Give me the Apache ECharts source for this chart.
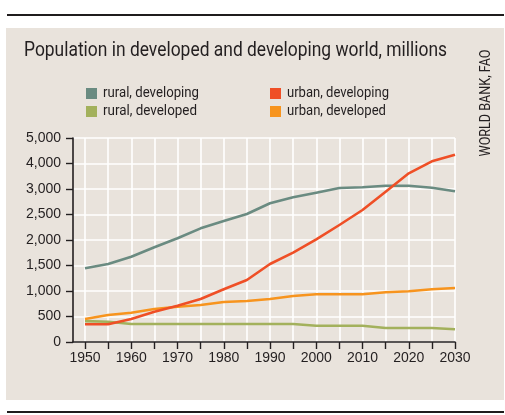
<!DOCTYPE html>
<html>
<head>
<meta charset="utf-8">
<script src="https://cdn.jsdelivr.net/npm/echarts@6/dist/echarts.min.js"></script>
<style>
  html, body { margin: 0; padding: 0; background: #ffffff; }
  #chart { width: 505px; height: 415px; }
</style>
</head>
<body>
<div id="chart"></div>
<script>
// Years on the horizontal axis (every five years)
const years = [1950, 1955, 1960, 1965, 1970, 1975, 1980, 1985, 1990, 1995, 2000, 2005, 2010, 2015, 2020, 2025, 2030];

// Population, millions
const ruralDeveloping = [1445, 1529, 1673, 1857, 2033, 2229, 2373, 2510, 2720, 2837, 2928, 3020, 3033, 3065, 3065, 3026, 2955];
const urbanDeveloping = [347, 347, 451, 594, 712, 843, 1033, 1216, 1529, 1751, 2013, 2294, 2588, 2947, 3307, 3543, 3673];
const ruralDeveloped  = [410, 398, 353, 353, 353, 353, 353, 353, 353, 353, 320, 320, 320, 275, 275, 275, 249];
const urbanDeveloped  = [451, 529, 575, 647, 692, 725, 784, 804, 843, 902, 935, 935, 935, 974, 994, 1033, 1059];

// Tick labels as printed on the axes
const yTickLabels = ['0', '500', '1,000', '1,500', '2,000', '2,500', '3,000', '4,000', '5,000'];
const xTickLabels = ['1950', '1960', '1970', '1980', '1990', '2000', '2010', '2020', '2030'];

const seriesNames = ['rural, developing', 'urban, developing', 'rural, developed', 'urban, developed'];
const seriesValues = [ruralDeveloping, urbanDeveloping, ruralDeveloped, urbanDeveloped];
const seriesColors = ['#6a8b81', '#ef4f26', '#a3b15c', '#f7941e'];

const INK = '#231f20';
const NUM_FONT = '"Liberation Sans", Arial, sans-serif';
const TEXT_FONT = 'Roboto, "Liberation Sans", sans-serif';

// Condensed look: squeeze a text horizontally so it spans the given width
const measureCtx = document.createElement('canvas').getContext('2d');
function squeezedText(text, x, y, size, width, extra) {
  const font = size + 'px ' + TEXT_FONT;
  measureCtx.font = font;
  const w = measureCtx.measureText(text).width;
  return Object.assign({
    type: 'text', z: 10, silent: true, x: x, y: y, scaleX: width / w, scaleY: 1,
    style: { text: text, fill: INK, font: font, textAlign: 'left', textVerticalAlign: 'middle' }
  }, extra || {});
}

const chart = echarts.init(document.getElementById('chart'), null, { renderer: 'canvas' });

const drawOrder = [0, 2, 3, 1];
const series = drawOrder.map(i => ({
  name: seriesNames[i],
  type: 'line',
  xAxisIndex: 1,
  yAxisIndex: 1,
  showSymbol: false,
  symbol: 'none',
  silent: true,
  color: seriesColors[i],
  lineStyle: { width: 2.6, color: seriesColors[i], cap: 'butt', join: 'round' },
  data: years.map((y, k) => [y, seriesValues[i][k]])
}));

// Legend: two columns of swatch + label
const legendSlots = [
  { idx: 0, x: 86, y: 88, textW: 96 },
  { idx: 2, x: 86, y: 106, textW: 94 },
  { idx: 1, x: 270, y: 88, textW: 102 },
  { idx: 3, x: 270, y: 106, textW: 99 }
];
const legendGraphics = [];
legendSlots.forEach(s => {
  legendGraphics.push({ type: 'rect', z: 10, silent: true,
    shape: { x: s.x, y: s.y, width: 11, height: 11 }, style: { fill: seriesColors[s.idx] } });
  legendGraphics.push(squeezedText(seriesNames[s.idx], s.x + 17, s.y + 5.5, 15, s.textW));
});

const sourceText = squeezedText('WORLD BANK, FAO', 486, 103, 14, 107, { rotation: Math.PI / 2 });
sourceText.style.textAlign = 'center';

const option = {
  animation: false,
  backgroundColor: 'transparent',
  graphic: [
    { type: 'rect', z: -10, silent: true, shape: { x: 6, y: 28, width: 498, height: 372 }, style: { fill: '#e9e3dc' } },
    { type: 'rect', z: -10, silent: true, shape: { x: 7, y: 14, width: 497, height: 2 }, style: { fill: '#1f1c1d' } },
    { type: 'rect', z: -10, silent: true, shape: { x: 7, y: 411, width: 497, height: 2 }, style: { fill: '#1f1c1d' } },
    squeezedText('Population in developed and developing world, millions', 24, 51, 21, 423),
    sourceText
  ].concat(legendGraphics),
  grid: [
    { left: 73, right: 50, top: 138, bottom: 73, containLabel: false },
    { left: 85, right: 50, top: 138, bottom: 73, containLabel: false }
  ],
  xAxis: [
    {
      gridIndex: 0, type: 'value', min: 0, max: 1,
      axisLine: { show: true, lineStyle: { color: INK, width: 1.6 } },
      axisTick: { show: false }, axisLabel: { show: false }, splitLine: { show: false }
    },
    {
      gridIndex: 1, type: 'value', min: 1950, max: 2030, interval: 5,
      axisLine: { show: false },
      axisTick: { show: true, length: 7, lineStyle: { color: INK, width: 1.4 } },
      axisLabel: {
        show: true, margin: 9, color: INK, fontFamily: NUM_FONT, fontSize: 14,
        formatter: v => (v % 10 === 0 ? xTickLabels[(v - 1950) / 10] : '')
      },
      splitLine: { show: true, lineStyle: { color: '#ffffff', width: 1.6 } }
    }
  ],
  yAxis: [
    {
      gridIndex: 0, type: 'value', min: 0, max: 4000, interval: 500,
      axisLine: { show: true, lineStyle: { color: INK, width: 1.6 } },
      axisTick: { show: true, length: 7, lineStyle: { color: INK, width: 1.4 } },
      axisLabel: { margin: 12, color: INK, fontFamily: NUM_FONT, fontSize: 14,
                   formatter: v => yTickLabels[Math.round(v / 500)] },
      splitLine: { show: true, lineStyle: { color: '#ffffff', width: 1.6 } }
    },
    { gridIndex: 1, type: 'value', min: 0, max: 4000, show: false }
  ],
  series: series
};

chart.setOption(option);
</script>
</body>
</html>
